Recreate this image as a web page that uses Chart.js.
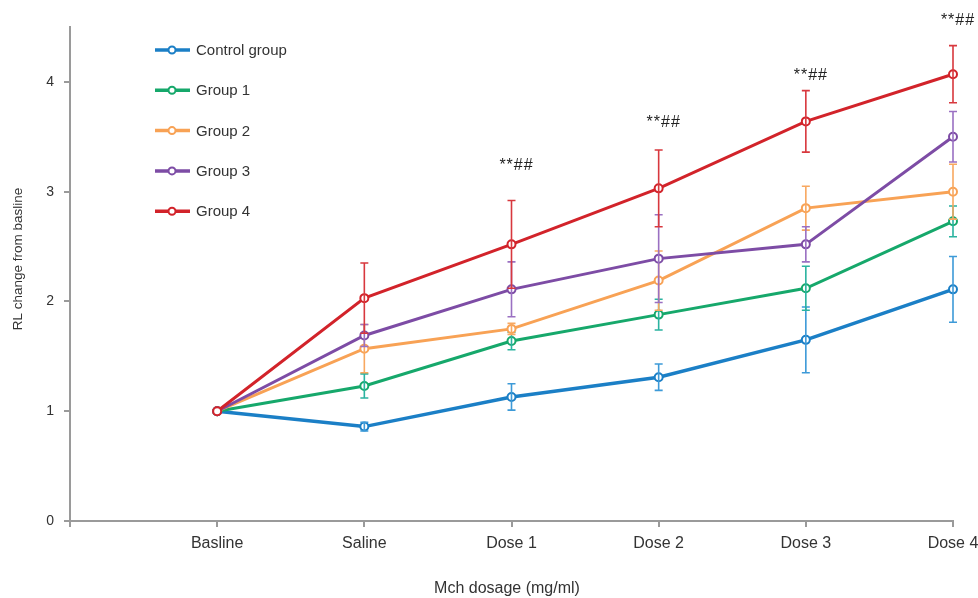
<!DOCTYPE html>
<html>
<head>
<meta charset="utf-8">
<script src="https://cdn.jsdelivr.net/npm/chart.js@4"></script>
<style>
  body { margin: 0; background: #fff; }
  #wrap { width: 978px; height: 598px; }
</style>
</head>
<body>
<div id="wrap"><canvas id="rl-chart" width="978" height="598"></canvas></div>
<script>
// categories on the x axis (an empty slot sits before Basline)
const categories = ['Basline', 'Saline', 'Dose 1', 'Dose 2', 'Dose 3', 'Dose 4'];

// mean RL change from baseline
const controlValues = [1.00, 0.86, 1.13, 1.31, 1.65, 2.11];
const group1Values  = [1.00, 1.23, 1.64, 1.88, 2.12, 2.73];
const group2Values  = [1.00, 1.57, 1.75, 2.19, 2.85, 3.00];
const group3Values  = [1.00, 1.69, 2.11, 2.39, 2.52, 3.50];
const group4Values  = [1.00, 2.03, 2.52, 3.03, 3.64, 4.07];

// error bar half widths
const controlErr = [0, 0.04, 0.12, 0.12, 0.30, 0.30];
const group1Err  = [0, 0.11, 0.08, 0.14, 0.20, 0.14];
const group2Err  = [0, 0.22, 0.05, 0.27, 0.20, 0.25];
const group3Err  = [0, 0.10, 0.25, 0.40, 0.16, 0.23];
const group4Err  = [0, 0.32, 0.40, 0.35, 0.28, 0.26];

// significance marks above the group 4 points
const sigLabels = ['', '', '**##', '**##', '**##', '**##'];
const sigLevels = [null, null, 3.24, 3.63, 4.06, 4.56];

const yTicks = [0, 1, 2, 3, 4];

const FONT = '"Liberation Sans", Arial, sans-serif';

const series = [
  { label: 'Control group', data: controlValues, err: controlErr, color: '#1b7fc6', errColor: '#3d9ad8', width: 3.5 },
  { label: 'Group 1', data: group1Values, err: group1Err, color: '#16a86b', errColor: '#2bb3a0', width: 3 },
  { label: 'Group 2', data: group2Values, err: group2Err, color: '#f8a255', errColor: '#f8a860', width: 3 },
  { label: 'Group 3', data: group3Values, err: group3Err, color: '#7d4ca5', errColor: '#9a70c2', width: 3 },
  { label: 'Group 4', data: group4Values, err: group4Err, color: '#d2232a', errColor: '#d8383e', width: 3 }
];

const extras = {
  id: 'extras',
  afterDatasetDraw(chart, args) {
    const s = series[args.index];
    const ctx = chart.ctx;
    const x = chart.scales.x, y = chart.scales.y;
    ctx.save();
    ctx.strokeStyle = s.errColor;
    ctx.lineWidth = 1.6;
    s.data.forEach((v, i) => {
      const e = s.err[i];
      if (!e) return;
      const px = x.getPixelForValue(i + 1);
      const top = y.getPixelForValue(v + e);
      const bot = y.getPixelForValue(v - e);
      ctx.beginPath();
      ctx.moveTo(px, top); ctx.lineTo(px, bot);
      ctx.moveTo(px - 4, top); ctx.lineTo(px + 4, top);
      ctx.moveTo(px - 4, bot); ctx.lineTo(px + 4, bot);
      ctx.stroke();
    });
    ctx.restore();
  },
  afterDraw(chart) {
    const ctx = chart.ctx;
    const x = chart.scales.x, y = chart.scales.y;
    ctx.save();
    // significance marks
    ctx.font = '16px ' + FONT;
    ctx.fillStyle = '#222';
    ctx.textAlign = 'center';
    ctx.textBaseline = 'middle';
    ctx.letterSpacing = '1px';
    sigLabels.forEach((t, i) => {
      if (!t) return;
      ctx.fillText(t, x.getPixelForValue(i + 1) + 5, y.getPixelForValue(sigLevels[i]));
    });
    ctx.letterSpacing = '0px';
    // legend
    ctx.font = '15px ' + FONT;
    ctx.textAlign = 'left';
    series.forEach((s, i) => {
      const ly = 50 + i * 40.3;
      ctx.strokeStyle = s.color;
      ctx.lineWidth = 3.5;
      ctx.beginPath();
      ctx.moveTo(155, ly); ctx.lineTo(190, ly);
      ctx.stroke();
      ctx.fillStyle = '#fff';
      ctx.lineWidth = 2;
      ctx.beginPath();
      ctx.arc(172, ly, 3.5, 0, Math.PI * 2);
      ctx.fill(); ctx.stroke();
      ctx.fillStyle = '#333';
      ctx.fillText(s.label, 196, ly + 1);
    });
    // axis titles
    ctx.fillStyle = '#333';
    ctx.textAlign = 'center';
    ctx.font = '16px ' + FONT;
    ctx.fillText('Mch dosage (mg/ml)', 507, 589);
    ctx.font = '13.5px ' + FONT;
    ctx.translate(18, 259);
    ctx.rotate(-Math.PI / 2);
    ctx.fillText('RL change from basline', 0, 0);
    ctx.restore();
  }
};

new Chart(document.getElementById('rl-chart'), {
  type: 'line',
  data: {
    labels: [''].concat(categories),
    datasets: series.map((s, i) => ({
      label: s.label,
      data: [null].concat(s.data),
      borderColor: s.color,
      backgroundColor: '#fff',
      borderWidth: s.width,
      pointRadius: 4,
      pointBorderWidth: 2,
      pointBackgroundColor: '#fff',
      pointBorderColor: s.color,
      tension: 0,
      order: series.length - i
    }))
  },
  options: {
    responsive: false,
    animation: false,
    events: [],
    layout: { padding: { top: 27, right: 25, left: 0, bottom: 0 } },
    plugins: {
      legend: { display: false },
      tooltip: { enabled: false }
    },
    scales: {
      x: {
        type: 'category',
        offset: false,
        border: { color: '#9a9a9a', width: 2 },
        grid: { drawOnChartArea: false, color: '#9a9a9a', lineWidth: 2, tickLength: 6 },
        ticks: { color: '#333', font: { size: 16, family: FONT }, padding: 7, maxRotation: 0, autoSkip: false },
        afterFit(scale) {
          scale.height = 77;
          scale.paddingLeft = 0;
          scale.paddingRight = 0;
        }
      },
      y: {
        min: 0,
        max: 4.5,
        border: { color: '#9a9a9a', width: 2 },
        grid: { drawOnChartArea: false, color: '#9a9a9a', lineWidth: 2, tickLength: 6 },
        ticks: {
          stepSize: 1,
          color: '#333',
          font: { size: 14, family: FONT },
          padding: 10,
          callback: (v) => yTicks.includes(v) ? String(v) : null
        },
        afterFit(scale) {
          scale.width = 70;
          scale.paddingTop = 0;
          scale.paddingBottom = 0;
        }
      }
    }
  },
  plugins: [extras]
});
</script>
</body>
</html>
